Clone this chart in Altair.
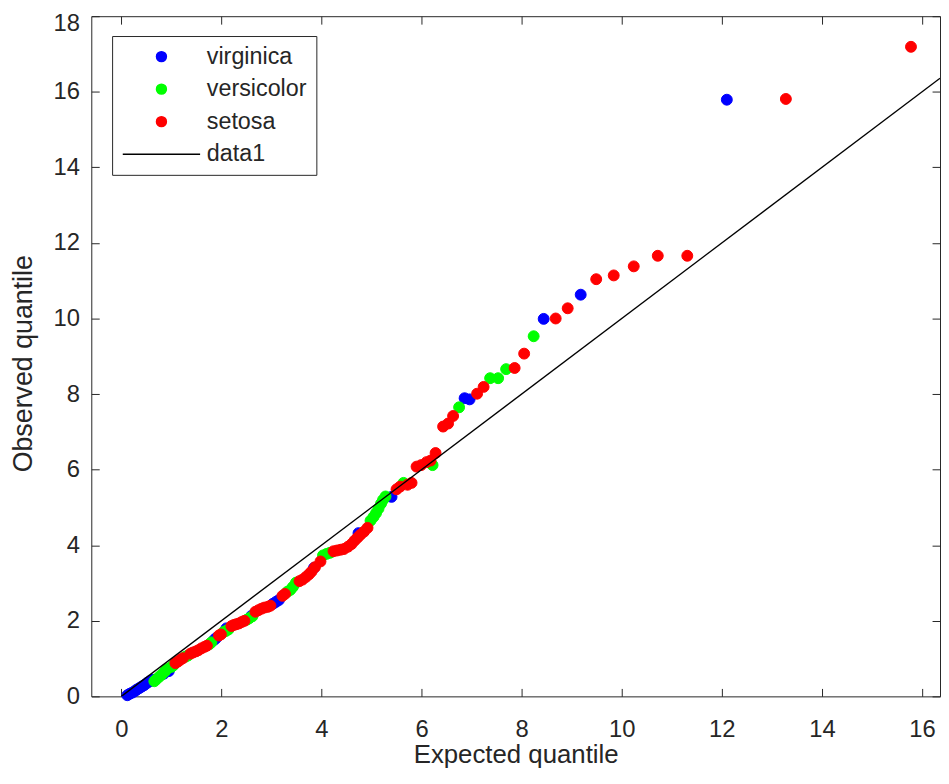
import altair as alt
import pandas as pd

# ---- data ----
virginica_x = [0.12, 0.17, 0.22, 0.27, 0.31, 0.36, 0.41, 0.46, 0.52, 0.57, 0.63, 0.85, 0.95,
               1.86, 1.90, 2.10, 2.60, 3.03, 3.09, 3.15, 3.85, 4.74, 5.40, 6.86, 6.96, 8.44, 9.18, 12.10]
virginica_y = [0.03, 0.07, 0.10, 0.14, 0.18, 0.22, 0.26, 0.30, 0.36, 0.40, 0.44, 0.60, 0.67,
               1.50, 1.55, 1.80, 2.13, 2.45, 2.50, 2.55, 3.40, 4.32, 5.28, 7.89, 7.86, 9.99, 10.63, 15.79]

versicolor_x = [0.66, 0.70, 0.76, 0.81, 0.87, 0.91, 1.00, 1.04, 1.28, 1.33, 1.76, 1.80, 2.04, 2.09,
                2.14, 2.51, 2.56, 2.62, 3.32, 3.38, 3.43, 3.49, 4.03, 4.10, 4.17, 4.98, 5.04, 5.09,
                5.14, 5.19, 5.23, 5.28, 5.64, 6.22, 6.75, 7.37, 7.53, 7.69, 8.24]
versicolor_y = [0.40, 0.45, 0.52, 0.58, 0.66, 0.72, 0.78, 0.82, 1.05, 1.08, 1.38, 1.43, 1.70, 1.73,
                1.77, 2.03, 2.07, 2.12, 2.77, 2.82, 2.90, 3.01, 3.73, 3.77, 3.80, 4.65, 4.75, 4.85,
                4.97, 5.10, 5.20, 5.29, 5.65, 6.12, 7.65, 8.42, 8.42, 8.66, 9.53]

setosa_x = [1.08, 1.13, 1.18, 1.23, 1.38, 1.43, 1.49, 1.54, 1.60, 1.66, 1.71, 1.95, 1.99, 2.20,
            2.25, 2.30, 2.35, 2.41, 2.46, 2.68, 2.74, 2.80, 2.86, 2.93, 2.98, 3.22, 3.27, 3.56,
            3.62, 3.69, 3.75, 3.80, 3.87, 3.98, 4.24, 4.31, 4.38, 4.45, 4.53, 4.60, 4.66, 4.72,
            4.78, 4.85, 4.92, 5.50, 5.57, 5.72, 5.80, 5.90, 5.99, 6.10, 6.18, 6.28, 6.43, 6.53,
            6.63, 7.11, 7.24, 7.86, 8.05, 8.68, 8.92, 9.49, 9.84, 10.24, 10.72, 11.31, 13.28, 15.78]
setosa_y = [0.88, 0.92, 0.97, 1.01, 1.13, 1.16, 1.19, 1.22, 1.27, 1.31, 1.34, 1.61, 1.64, 1.86,
            1.89, 1.91, 1.93, 1.97, 2.00, 2.24, 2.28, 2.32, 2.35, 2.37, 2.40, 2.66, 2.71, 3.05,
            3.09, 3.16, 3.23, 3.30, 3.42, 3.57, 3.84, 3.86, 3.88, 3.90, 3.96, 4.03, 4.12, 4.20,
            4.28, 4.36, 4.46, 5.48, 5.55, 5.60, 5.65, 6.08, 6.12, 6.20, 6.24, 6.44, 7.14, 7.22,
            7.42, 8.01, 8.19, 8.69, 9.07, 10.00, 10.27, 11.04, 11.14, 11.38, 11.66, 11.66, 15.81, 17.19]

ref_x = [0.0, 16.36]
ref_y = [0.0, 16.36]

series_names = ["virginica", "versicolor", "setosa", "data1"]
series_colors = ["#0000FF", "#00FF00", "#FF0000", "#000000"]
series_shapes = ["circle", "circle", "circle", "M-7.8,0H7.8"]

x_ticks = [0, 2, 4, 6, 8, 10, 12, 14, 16]
y_ticks = [0, 2, 4, 6, 8, 10, 12, 14, 16, 18]
x_domain = [-0.6, 16.36]
y_domain = [0, 18]

# ---- tables ----
pts = pd.concat([
    pd.DataFrame({"x": virginica_x, "y": virginica_y, "species": "virginica"}),
    pd.DataFrame({"x": versicolor_x, "y": versicolor_y, "species": "versicolor"}),
    pd.DataFrame({"x": setosa_x, "y": setosa_y, "species": "setosa"}),
], ignore_index=True)
ref = pd.DataFrame({"x": ref_x, "y": ref_y})

AX = "#262626"
FONT = "Liberation Sans"

legend = alt.Legend(
    title=None, orient="none", legendX=21, legendY=20,
    padding=9, strokeColor=AX, fillColor="white", cornerRadius=0,
    symbolSize=100, symbolStrokeWidth=1.5, symbolOffset=29, labelOffset=34,
    labelFontSize=23.5, labelFont=FONT, labelColor=AX, rowPadding=7.8,
)

xs = alt.Scale(domain=x_domain, nice=False, zero=False)
ys = alt.Scale(domain=y_domain, nice=False, zero=False)

points = alt.Chart(pts).mark_point(filled=True, size=121, strokeWidth=1, opacity=1).encode(
    x=alt.X("x:Q", scale=xs, axis=alt.Axis(
        orient="bottom", values=x_ticks, title="Expected quantile", domain=False,
        tickSize=8, offset=-8, tickColor=AX, labelColor=AX, labelFont=FONT, labelFontSize=24,
        labelPadding=21, titleFont=FONT, titleFontSize=26, titleFontWeight="normal",
        titleColor=AX, titlePadding=1, grid=False)),
    y=alt.Y("y:Q", scale=ys, axis=alt.Axis(
        orient="left", values=y_ticks, title="Observed quantile", domain=False,
        tickSize=8, offset=-8, tickColor=AX, labelColor=AX, labelFont=FONT, labelFontSize=24,
        labelPadding=12,
        labelOffset={"condition": {"test": "datum.value == 18", "value": 7}, "value": 0},
        titleFont=FONT, titleFontSize=27, titleFontWeight="normal",
        titleColor=AX, titleX=-76, titleY=350, titleBaseline="middle", grid=False)),
    fill=alt.Fill("species:N", scale=alt.Scale(domain=series_names, range=series_colors), legend=legend),
    stroke=alt.Stroke("species:N", scale=alt.Scale(domain=series_names, range=series_colors), legend=legend),
    shape=alt.Shape("species:N", scale=alt.Scale(domain=series_names, range=series_shapes), legend=legend),
)

line = alt.Chart(ref).mark_line(color="black", strokeWidth=1.3, clip=True).encode(
    x=alt.X("x:Q", scale=xs, axis=alt.Axis(
        orient="top", values=x_ticks, title=None, labels=False, domain=False,
        tickSize=8, offset=-8, tickColor=AX, grid=False)),
    y=alt.Y("y:Q", scale=ys, axis=alt.Axis(
        orient="right", values=y_ticks, title=None, labels=False, domain=False,
        tickSize=8, offset=-8, tickColor=AX, grid=False)),
)

chart = alt.layer(points, line).resolve_axis(x="independent", y="independent").properties(
    width=856, height=686,
    padding={"left": 84, "top": 5, "right": 1, "bottom": 72},
    autosize=alt.AutoSizeParams(type="none"),
    background="white",
).configure_view(stroke=AX, strokeWidth=1)

chart.save("out.html", embed_options={"renderer": "svg", "actions": False})
